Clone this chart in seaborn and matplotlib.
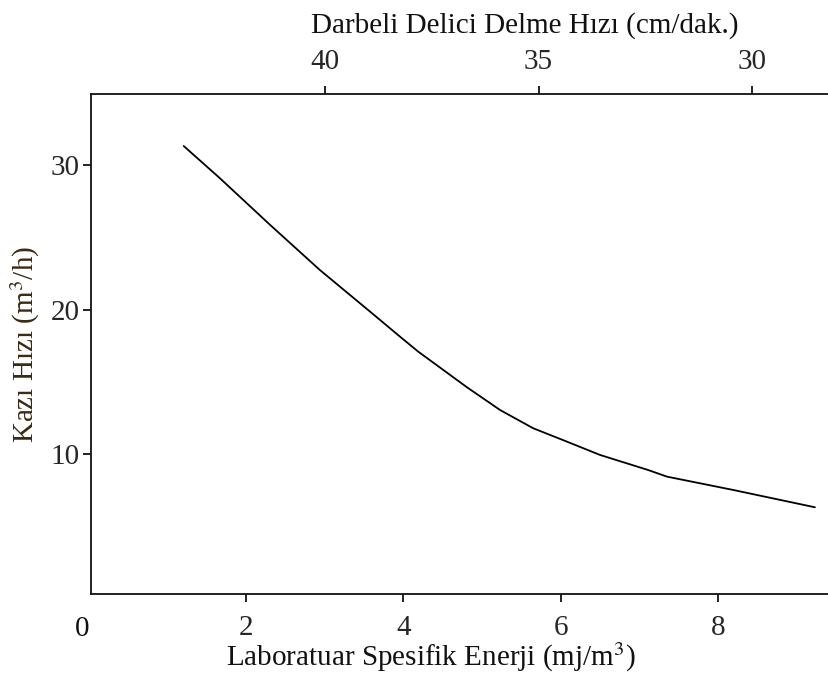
import numpy as np
import pandas as pd
import matplotlib
matplotlib.use("Agg")
import matplotlib.pyplot as plt
import seaborn as sns

# Excavation rate vs. laboratory specific energy
energy = [1.21, 1.67, 2.31, 2.94, 3.58, 3.96, 4.19, 4.81, 5.23, 5.65, 6.08, 6.50, 7.11, 7.35, 8.19, 9.23]
rate = [31.32, 29.09, 25.85, 22.74, 19.85, 18.12, 17.09, 14.62, 13.05, 11.79, 10.86, 9.94, 8.90, 8.44, 7.52, 6.32]

x_ticks = [2, 4, 6, 8]
y_ticks = [10, 20, 30]
top_ticks = [40, 35, 30]

# linear relation between specific energy and percussive drilling rate
drill_a, drill_b = 45.52, -1.8396

df = pd.DataFrame({"energy": energy, "rate": rate})

sns.set_theme(style="white")
plt.rcParams["font.family"] = ["Liberation Serif", "DejaVu Serif"]
plt.rcParams["mathtext.fontset"] = "stix"

fig = plt.figure(figsize=(8.29, 6.82), dpi=100)
W, H = 829, 682
left, right, top, bottom = 91, 829, 94, 594
ax = fig.add_axes([left / W, 1 - bottom / H, (right - left) / W, (bottom - top) / H])

sns.lineplot(data=df, x="energy", y="rate", color="black", lw=1.3, ax=ax)

xlim = (0.032, 9.409)
ylim = (0.318, 34.92)
ax.set_xlim(*xlim)
ax.set_ylim(*ylim)

ink = "#111111"
for side in ["left", "bottom", "top"]:
    ax.spines[side].set_color(ink)
    ax.spines[side].set_linewidth(1.3)
ax.spines["right"].set_visible(False)

fs = 21
ax.set_xticks(x_ticks)
ax.set_xticklabels([str(v) for v in x_ticks])
ax.set_yticks(y_ticks)
ax.set_yticklabels([str(v) for v in y_ticks])
ax.tick_params(axis="x", direction="out", length=6, width=1.3, color=ink,
               labelsize=fs, pad=9, bottom=True, top=False)
ax.tick_params(axis="y", direction="out", length=6, width=1.3, color=ink,
               labelsize=fs, pad=2, left=True, right=False)
ax.text(-0.08, -0.045, "0", transform=ax.get_xaxis_transform(),
        ha="center", va="top", fontsize=fs, color=ink)

ax.set_xlabel("Laboratuar Spesifik Enerji (mj/m$^3$)", fontsize=fs, color=ink)
ax.xaxis.set_label_coords(0.461, -0.093)
ax.set_ylabel("Kazı Hızı (m$^3$/h)", fontsize=fs, color="#3b2a12")
ax.yaxis.set_label_coords(-0.066, 0.5)

# top axis: percussive drilling rate
ax2 = ax.twiny()
ax2.set_xlim(drill_a + drill_b * xlim[0], drill_a + drill_b * xlim[1])
ax2.set_xticks(top_ticks)
ax2.set_xticklabels([str(v) for v in top_ticks])
ax2.tick_params(axis="x", direction="out", length=6, width=1.3, color=ink,
                labelsize=fs, pad=8)
for s in ax2.spines.values():
    s.set_visible(False)
ax2.set_xlabel("Darbeli Delici Delme Hızı (cm/dak.)", fontsize=fs, color=ink)
ax2.xaxis.set_label_coords(0.588, 1.122)
ax2.grid(False)
ax.grid(False)

fig.savefig("out.png", dpi=100)
